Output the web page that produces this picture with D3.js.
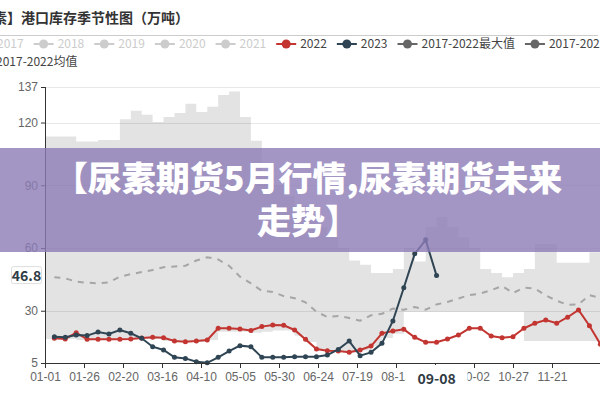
<!DOCTYPE html>
<html>
<head>
<meta charset="utf-8">
<script src="https://cdn.jsdelivr.net/npm/d3@7/dist/d3.min.js"></script>
<style>
body { margin: 0; background: #fff; }
svg { display: block; font-family: "Noto Sans CJK SC", "Noto Sans", sans-serif; }
</style>
</head>
<body>
<div id="chart"></div>
<script>
// weekly dates (leap-year calendar, like the chart's MM-DD axis)
var weeks = ['01-07','01-14','01-21','01-28','02-04','02-11','02-18','02-25','03-03','03-10',
	'03-17','03-24','03-31','04-07','04-14','04-21','04-28','05-05','05-12','05-19',
	'05-26','06-02','06-09','06-16','06-23','06-30','07-07','07-14','07-21','07-28',
	'08-04','08-11','08-18','08-25','09-01','09-08','09-15','09-22','09-29','10-06',
	'10-13','10-20','10-27','11-03','11-10','11-17','11-24','12-01','12-08','12-15',
	'12-22','12-29'];

var xTickLabels = ['01-01','01-26','02-20','03-16','04-10','05-05','05-30','06-24','07-19','08-13','09-07','10-02','10-27','11-21'];
var yTicks = [5, 30, 60, 90, 120, 137];

var s2022 = [16.8,16.5,19.5,16.3,16.3,16.3,16.3,16.5,17.0,17.3,17.1,15.5,15.2,15.5,16.0,21.6,
	21.6,21.3,20.6,22.4,23.2,23.0,20.8,16.3,11.7,10.9,10.7,10.1,11.2,13.1,19.2,20.3,
	21.1,17.3,14.9,14.9,16.5,18.4,21.6,21.6,17.9,17.1,17.6,21.6,24.0,25.6,24.0,26.9,
	30.4,22.8,14.0,9.0];
var s2023 = [17.6,17.3,18.4,18.1,19.8,18.9,20.8,19.2,16.8,12.8,11.2,7.7,7.2,5.6,5.1,7.7,
	10.7,13.3,12.8,7.7,7.7,7.7,8.0,8.0,8.0,8.8,11.5,15.5,8.5,10.1,14.4,25.1,
	41.0,57.2,63.9,46.8];
var sMean = [46.0,45.5,43.9,43.4,43.1,43.6,46.3,47.5,48.5,49.5,50.8,51.2,51.5,54.0,55.6,54.5,
	51.5,46.3,43.1,39.5,39.0,37.0,36.0,34.0,29.5,27.0,27.5,26.5,25.2,27.8,28.5,31.0,
	30.5,31.8,30.5,33.0,34.2,35.8,37.5,38.2,39.8,41.8,38.5,41.0,40.7,37.3,34.8,32.8,
	33.0,37.5,36.0,35.0];

// min / max band: steps start on 01-01, then each weekly date, closing on 12-31
var bandDates = ['01-01'].concat(weeks, ['12-31']);
var bandMax = [113.3,113.3,113.3,110.9,110.9,111.7,111.7,121.6,125.7,123.7,120.3,122.6,124.6,129.0,
	125.1,127.6,133.2,134.8,122.6,111.3,95,90,85,80,75,70,65,60,54,52,48,48,50,60,53.5,70,75,
	70,65,60,50,48,46,48,50,62,62,53,53,53,58,58,58,58];
var bandMin = [16.5,16.5,16.5,16.0,16.0,16.0,16.0,16.0,16.5,16.5,16.5,15.5,15.0,15.0,15.0,16.0,
	20.0,20.0,20.0,19.5,20.0,20.5,20.5,18.0,15.0,11.5,10.5,10.5,10.0,11.0,13.0,17.0,19.0,
	29.5,29.5,29.5,29.5,29.5,29.5,29.5,29.5,29.5,29.5,29.5,15.5,15.5,15.5,15.5,15.5,15.5,15.5,
	15.5,15.5,15.5];

var legendRow1 = [
	{name: '2017', color: '#ccc', text: '#ccc'},
	{name: '2018', color: '#ccc', text: '#ccc'},
	{name: '2019', color: '#ccc', text: '#ccc'},
	{name: '2020', color: '#ccc', text: '#ccc'},
	{name: '2021', color: '#ccc', text: '#ccc'},
	{name: '2022', color: '#c23531', text: '#444'},
	{name: '2023', color: '#2f4554', text: '#444'},
	{name: '2017-2022最大值', color: '#666', text: '#444'},
	{name: '2017-2022最小值', color: '#666', text: '#444'}
];
var legendRow2 = [{name: '2017-2022均值', color: '#999', text: '#444'}];

var pointerDate = '09-08';
var pointerValue = 46.8;

var width = 600, height = 400;
var margin = {left: 45, top: 87, bottom: 37};

// all calendar days of a leap year as MM-DD categories
var days = d3.timeDays(new Date(2020, 0, 1), new Date(2021, 0, 1)).map(d3.timeFormat('%m-%d'));

var x = d3.scalePoint().domain(days).range([margin.left, margin.left + 365 * 1.56]);
var y = d3.scaleLinear().domain([5, 137]).range([height - margin.bottom, margin.top]);

var svg = d3.select('#chart').append('svg')
	.attr('width', width)
	.attr('height', height);

// title + rule
svg.append('text')
	.attr('x', -35).attr('y', 23)
	.style('font-size', '14px').style('font-weight', 'bold').style('fill', '#333')
	.text('【尿素】港口库存季节性图（万吨）');
svg.append('line')
	.attr('x1', 0).attr('x2', 598).attr('y1', 35.5).attr('y2', 35.5)
	.attr('stroke', '#ccc');

// legend
function drawLegend(items, startX, yPos) {
	let cx = startX;
	items.forEach(function(it) {
		let g = svg.append('g');
		g.append('line').attr('x1', cx).attr('x2', cx + 20).attr('y1', yPos).attr('y2', yPos)
			.attr('stroke', it.color).attr('stroke-width', 2);
		g.append('circle').attr('cx', cx + 10).attr('cy', yPos).attr('r', 4.5).attr('fill', it.color);
		let t = g.append('text').attr('x', cx + 24).attr('y', yPos + 4)
			.style('font-size', '12px').style('fill', it.text).text(it.name);
		cx += 24 + t.node().getComputedTextLength() + 10;
	});
}
drawLegend(legendRow1, -27, 44);
drawLegend(legendRow2, -28, 62);

// gridlines
svg.append('g').selectAll('line').data(yTicks.filter(d => d > 5)).join('line')
	.attr('x1', margin.left).attr('x2', width)
	.attr('y1', d => Math.round(y(d)) + 0.5).attr('y2', d => Math.round(y(d)) + 0.5)
	.attr('stroke', '#e8e8e8');

// min-max band
let bandArea = d3.area()
	.x((d, i) => x(bandDates[i]))
	.y0((d, i) => y(bandMin[i]))
	.y1((d, i) => y(bandMax[i]))
	.curve(d3.curveStepAfter);
svg.append('path').datum(bandMax).attr('d', bandArea)
	.attr('fill', 'rgba(0,0,0,0.11)');

// mean dashed line
let meanLine = d3.line().x((d, i) => x(weeks[i])).y(d => y(d));
svg.append('path').datum(sMean).attr('d', meanLine)
	.attr('fill', 'none').attr('stroke', '#a6a6a6').attr('stroke-width', 2)
	.attr('stroke-dasharray', '6,6');

function drawSeries(vals, color) {
	let line = d3.line().x((d, i) => x(weeks[i])).y(d => y(d));
	svg.append('path').datum(vals).attr('d', line)
		.attr('fill', 'none').attr('stroke', color).attr('stroke-width', 2);
	svg.append('g').selectAll('circle').data(vals).join('circle')
		.attr('cx', (d, i) => x(weeks[i])).attr('cy', d => y(d))
		.attr('r', 2.5).attr('fill', color);
}
drawSeries(s2022, '#c23531');
drawSeries(s2023, '#2f4554');

// axes
let yAxis = d3.axisLeft(y).tickValues(yTicks).tickSize(4).tickPadding(3);
let gy = svg.append('g').attr('transform', 'translate(' + margin.left + ',0)').call(yAxis);
gy.select('.domain').attr('stroke', '#333').attr('d', 'M0.5,' + y(137) + 'V' + y(5));
gy.selectAll('.tick line').attr('stroke', '#333');
gy.selectAll('text').style('font-size', '12px').style('fill', '#666').style('font-family', 'inherit');

let xAxis = d3.axisBottom(x).tickValues(xTickLabels).tickSize(5).tickPadding(4);
let gx = svg.append('g').attr('transform', 'translate(0,' + y(5) + ')').call(xAxis);
gx.select('.domain').attr('stroke', '#333').attr('d', 'M' + margin.left + ',0.5H' + width);
gx.selectAll('.tick line').attr('stroke', '#333');
gx.selectAll('text').style('font-size', '12px').style('fill', '#666').style('font-family', 'inherit');

// axis pointer labels
let px = x(pointerDate);
svg.append('rect').attr('x', px - 31).attr('y', y(5) + 2).attr('width', 62).attr('height', 26)
	.attr('fill', '#fff');
svg.append('text').attr('x', px).attr('y', y(5) + 21).attr('text-anchor', 'middle')
	.style('font-size', '14px').style('font-weight', 'bold').style('fill', '#2f3b45')
	.text(pointerDate);
let py = y(pointerValue);
svg.append('rect').attr('x', 11.5).attr('y', py - 9).attr('width', 30).attr('height', 17)
	.attr('fill', '#fff').attr('stroke', '#ddd').attr('rx', 2);
svg.append('text').attr('x', 26.5).attr('y', py + 5).attr('text-anchor', 'middle')
	.style('font-size', '14px').style('font-weight', 'bold').style('fill', '#2f3b45')
	.text(pointerValue);

// article banner overlay
svg.append('rect').attr('x', 0).attr('y', 148).attr('width', width).attr('height', 104)
	.attr('fill', 'rgba(140,124,182,0.8)');
let banner = svg.append('text').attr('text-anchor', 'middle')
	.style('font-size', '34px').style('font-weight', 900).style('fill', '#fff');
banner.append('tspan').attr('x', 308).attr('y', 191).text('【尿素期货5月行情,尿素期货未来');
banner.append('tspan').attr('x', 308).attr('y', 234).text('走势】');
</script>
</body>
</html>
